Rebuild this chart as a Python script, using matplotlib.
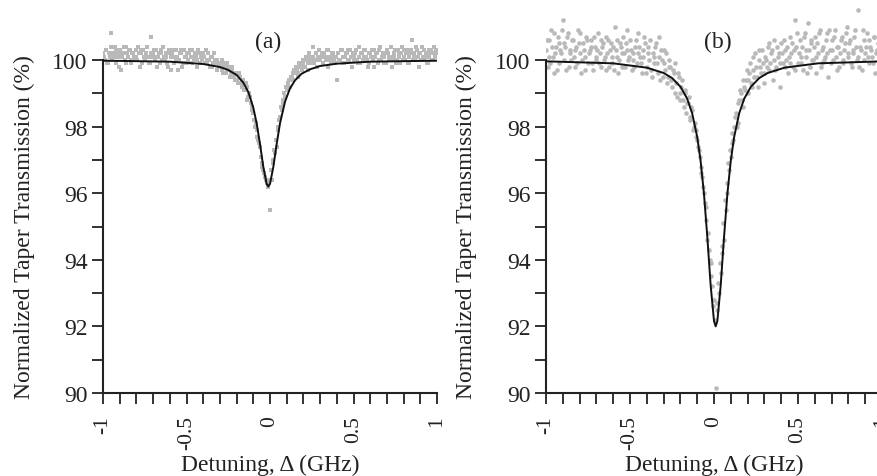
import numpy as np
import matplotlib
matplotlib.use("Agg")
import matplotlib.pyplot as plt
from matplotlib.ticker import MultipleLocator, FixedLocator, FixedFormatter

plt.rcParams['font.family'] = ['Liberation Serif', 'DejaVu Serif']

# ---------------- data ----------------
# panel (a): measured transmission, detuning sweep -1..1 GHz
detuning_a = np.linspace(-1.0, 1.0, 201)
trans_a = [
    100.2, 100.0, 100.3, 99.9, 100.1, 100.8, 100.2, 100.4, 99.9, 100.1,
    100.3, 99.7, 100.2, 100.0, 100.4, 100.1, 100.3, 99.9, 100.2, 100.0,
    100.1, 100.4, 99.8, 100.2, 100.3, 100.0, 100.2, 100.1, 99.9, 100.7,
    100.2, 100.0, 100.3, 100.1, 99.9, 100.2, 100.4, 100.0, 100.1, 99.8,
    100.2, 99.7, 100.3, 100.1, 100.0, 99.7, 100.2, 100.3, 99.9, 100.1,
    100.2, 100.0, 100.3, 99.9, 100.1, 100.2, 100.0, 100.3, 99.9, 100.1,
    100.2, 99.9, 100.0, 100.2, 99.8, 100.1, 99.9, 100.0, 99.7, 99.9,
    99.8, 100.0, 99.6, 99.9, 99.7, 99.8, 99.5, 99.7, 99.6, 99.4,
    99.6, 99.3, 99.5, 99.2, 99.4, 99.1, 99.2, 98.9, 98.9, 98.6,
    98.4, 98.0, 97.9, 97.6, 97.4, 96.9, 96.7, 96.5, 96.3, 96.2,
    95.5, 96.4, 96.9, 97.2, 97.4, 97.9, 98.3, 98.5, 98.8, 98.9,
    99.1, 99.3, 99.2, 99.5, 99.4, 99.6, 99.7, 99.5, 99.8, 99.7,
    99.9, 99.8, 100.0, 99.7, 100.1, 99.9, 100.4, 100.0, 99.8, 100.1,
    100.0, 100.2, 99.9, 100.1, 100.3, 99.8, 100.0, 100.2, 100.1, 99.9,
    99.4, 100.2, 100.0, 100.3, 99.9, 100.1, 100.2, 100.0, 100.3, 99.8,
    100.1, 100.2, 100.0, 100.4, 99.9, 100.2, 100.1, 100.3, 100.0, 99.9,
    100.2, 100.3, 99.8, 100.1, 100.2, 100.0, 100.4, 100.1, 99.9, 100.2,
    100.3, 100.0, 100.1, 99.8, 100.2, 100.3, 100.0, 100.2, 99.9, 100.4,
    100.1, 100.0, 100.3, 99.9, 100.2, 100.6, 100.1, 100.0, 100.3, 99.8,
    100.2, 100.4, 100.0, 100.1, 99.9, 100.3, 100.2, 100.0, 100.4, 100.1,
    100.2,
]
# second interleaved sweep (a)
detuning_a2 = np.linspace(-0.995, 0.995, 200)
trans_a2 = [
    100.1, 100.3, 99.9, 100.2, 100.4, 100.0, 100.1, 100.3, 100.2, 99.8,
    100.2, 100.1, 100.4, 99.9, 100.2, 100.3, 100.0, 100.2, 100.1, 100.3,
    100.0, 100.2, 100.3, 99.9, 100.1, 100.2, 100.4, 99.9, 100.2, 100.1,
    100.3, 100.1, 99.8, 100.2, 100.3, 100.0, 100.1, 100.2, 99.9, 100.3,
    100.1, 100.2, 99.9, 100.3, 100.1, 100.0, 100.2, 99.8, 100.3, 100.1,
    99.9, 100.2, 100.1, 100.3, 100.0, 100.1, 99.8, 100.2, 100.1, 100.0,
    100.1, 100.3, 99.9, 100.0, 100.1, 99.8, 100.2, 99.9, 100.0, 99.8,
    99.9, 99.7, 99.8, 99.6, 99.9, 99.7, 99.6, 99.8, 99.5, 99.6,
    99.4, 99.6, 99.3, 99.4, 99.1, 99.3, 98.8, 99.0, 98.7, 98.5,
    98.2, 98.1, 97.7, 97.5, 97.1, 96.8, 96.6, 96.4, 96.3, 96.4,
    96.7, 97.0, 97.3, 97.6, 98.0, 98.2, 98.6, 98.7, 99.0, 99.2,
    99.2, 99.4, 99.5, 99.6, 99.7, 99.8, 99.6, 99.9, 99.8, 100.0,
    99.8, 100.1, 99.9, 100.2, 100.0, 100.1, 99.9, 100.2, 100.0, 100.3,
    100.1, 99.9, 100.2, 100.0, 100.3, 100.1, 99.9, 100.2, 100.0, 100.1,
    100.2, 100.0, 100.3, 100.1, 99.9, 100.2, 100.3, 100.0, 100.1, 100.2,
    100.0, 100.3, 99.9, 100.1, 100.2, 100.0, 100.3, 100.1, 99.8, 100.2,
    100.1, 100.0, 100.3, 100.2, 99.9, 100.3, 100.0, 100.2, 100.1, 99.9,
    100.2, 100.1, 100.4, 100.0, 100.1, 99.9, 100.3, 100.1, 100.2, 100.0,
    100.3, 100.2, 99.9, 100.1, 100.3, 100.0, 100.2, 100.4, 100.1, 100.2,
    100.0, 100.1, 100.3, 100.2, 99.9, 100.1, 100.3, 100.0, 100.2, 100.3,
]
fit_x_a = [-1.0, -0.6, -0.4, -0.3, -0.25, -0.2, -0.16, -0.13, -0.1, -0.08,
           -0.06, -0.04, -0.02, -0.01, 0.0, 0.02, 0.04, 0.06, 0.09, 0.12,
           0.15, 0.19, 0.24, 0.3, 0.4, 0.6, 1.0]
fit_y_a = [99.98, 99.95, 99.88, 99.79, 99.70, 99.55, 99.32, 99.04, 98.57, 98.10,
           97.48, 96.79, 96.28, 96.20, 96.28, 96.79, 97.48, 98.10, 98.75, 99.15,
           99.39, 99.59, 99.72, 99.82, 99.89, 99.95, 99.98]

# panel (b)
detuning_b = np.linspace(-1.0, 1.0, 201)
trans_b = [
    100.3, 99.8, 100.6, 100.9, 100.1, 99.6, 100.4, 100.7, 99.9, 100.2,
    101.2, 100.5, 99.7, 100.8, 100.3, 100.0, 100.6, 99.8, 100.4, 100.9,
    100.2, 99.6, 100.5, 100.1, 100.7, 99.9, 100.3, 100.6, 99.7, 100.4,
    100.0, 100.8, 100.2, 99.8, 100.5, 100.1, 99.7, 100.6, 100.3, 99.9,
    100.4, 101.0, 100.1, 99.6, 100.5, 100.2, 100.7, 99.8, 100.3, 100.0,
    100.6, 99.7, 100.2, 100.4, 99.9, 100.8, 100.1, 99.6, 100.3, 100.5,
    99.8, 100.2, 100.6, 99.5, 100.1, 100.4, 99.9, 100.7, 99.4, 100.0,
    100.3, 99.7, 99.3, 100.0, 99.8, 99.2, 99.6, 99.9, 98.9, 99.5,
    99.0, 99.4, 98.6, 99.1, 98.7, 98.9, 98.3, 98.5, 98.0, 97.9,
    97.6, 97.3, 96.8, 96.5, 96.0, 95.6, 94.6, 94.3, 93.9, 93.2,
    92.8, 90.15, 92.5, 93.0, 93.6, 94.2, 94.6, 95.5, 96.0, 96.7,
    97.1, 97.5, 98.0, 98.4, 98.1, 98.8, 99.0, 98.6, 99.2, 99.4,
    99.0, 99.6, 99.3, 100.1, 99.5, 99.8, 99.2, 100.3, 99.6, 99.9,
    99.3, 100.0, 100.4, 99.7, 100.2, 99.4, 100.6, 99.8, 100.1, 99.2,
    100.5, 99.9, 100.3, 100.0, 99.6, 100.7, 100.2, 99.8, 101.2, 100.4,
    99.9, 100.6, 100.1, 99.7, 100.8, 100.3, 101.1, 99.8, 100.5, 100.0,
    100.7, 99.6, 100.2, 100.9, 99.9, 100.4, 100.1, 100.8, 99.5, 100.3,
    100.6, 100.0, 100.9, 99.7, 100.4, 100.2, 100.7, 99.9, 100.5, 101.0,
    100.1, 100.6, 99.8, 100.3, 100.9, 100.0, 101.5, 100.4, 99.7, 100.6,
    100.2, 100.8, 99.9, 100.4, 100.1, 100.7, 99.6, 100.3, 100.5, 100.0,
    100.4,
]
detuning_b2 = np.linspace(-0.995, 0.995, 200)
trans_b2 = [
    100.6, 100.1, 99.9, 100.4, 100.8, 100.2, 99.7, 100.5, 100.3, 100.9,
    100.0, 100.4, 100.7, 99.8, 100.2, 100.6, 100.1, 100.3, 99.9, 100.5,
    100.8, 100.0, 100.3, 99.7, 100.6, 100.2, 100.4, 99.9, 100.7, 100.1,
    100.3, 99.9, 100.6, 100.4, 100.0, 100.7, 100.2, 99.8, 100.5, 100.1,
    99.7, 100.3, 100.6, 100.0, 100.4, 99.8, 100.2, 100.5, 100.9, 100.1,
    100.3, 100.0, 99.8, 100.6, 100.2, 100.4, 99.9, 100.1, 100.7, 99.6,
    100.4, 100.0, 99.7, 100.2, 99.9, 100.5, 99.6, 100.1, 100.3, 99.5,
    99.9, 100.2, 99.5, 99.8, 99.4, 99.7, 99.0, 99.3, 99.6, 98.8,
    99.2, 98.8, 99.0, 98.4, 98.7, 98.2, 98.6, 97.9, 98.1, 97.7,
    97.4, 97.1, 96.6, 96.2, 95.7, 95.2, 94.8, 94.0, 93.5, 92.6,
    92.2, 92.7, 93.3, 93.9, 94.4, 95.1, 95.8, 96.3, 96.9, 97.3,
    97.8, 97.6, 98.3, 98.0, 98.7, 99.1, 98.8, 99.4, 99.1, 99.7,
    99.4, 99.9, 99.2, 99.7, 100.2, 99.5, 100.0, 99.8, 100.3, 99.6,
    100.1, 99.8, 100.5, 99.9, 100.3, 100.0, 99.7, 100.4, 100.2, 99.9,
    100.2, 100.6, 99.8, 100.4, 100.1, 99.9, 100.5, 100.3, 99.7, 100.8,
    100.2, 99.9, 100.4, 100.7, 100.1, 99.6, 100.3, 100.6, 100.0, 100.4,
    100.1, 100.5, 100.8, 99.8, 100.3, 100.0, 100.6, 100.2, 100.9, 99.9,
    100.3, 100.7, 100.1, 100.4, 99.8, 100.6, 100.0, 100.3, 100.8, 100.2,
    100.5, 99.9, 100.2, 100.7, 100.4, 100.1, 99.8, 100.3, 100.9, 100.0,
    100.4, 100.1, 100.6, 100.3, 99.9, 100.7, 100.2, 100.5, 99.8, 100.3,
]
fit_x_b = [-1.0, -0.6, -0.4, -0.3, -0.25, -0.2, -0.16, -0.13, -0.1, -0.08,
           -0.06, -0.04, -0.02, 0.0, 0.01, 0.02, 0.04, 0.06, 0.08, 0.10,
           0.12, 0.15, 0.18, 0.22, 0.27, 0.32, 0.42, 0.62, 1.0]
fit_y_b = [99.96, 99.90, 99.77, 99.61, 99.46, 99.20, 98.84, 98.40, 97.69, 96.98,
           96.00, 94.70, 93.24, 92.16, 92.00, 92.16, 93.24, 94.70, 96.00, 96.98,
           97.69, 98.40, 98.84, 99.20, 99.46, 99.61, 99.77, 99.90, 99.96]

xtick_vals = [-1, -0.5, 0, 0.5, 1]
xtick_labels = ['-1', '-0.5', '0', '0.5', '1']
ytick_vals = [90, 92, 94, 96, 98, 100]
ytick_labels = ['90', '92', '94', '96', '98', '100']
panel_labels = ['(a)', '(b)']

# ---------------- figure ----------------
W, H = 877, 477
fig = plt.figure(figsize=(W / 100, H / 100), dpi=100)

y_top = 101.6
bottom_px = 394
top_px = 61 - (y_top - 100) * 33.3
def axes_rect(left_px, right_px):
    return [left_px / W, (H - bottom_px) / H, (right_px - left_px) / W,
            (bottom_px - top_px) / H]

ax_a = fig.add_axes(axes_rect(103, 437))
ax_b = fig.add_axes(axes_rect(546, 882))

gray = '#b9b9b9'
ax_a.scatter(detuning_a, trans_a, s=7, marker='s', color=gray, linewidths=0, zorder=2)
ax_a.scatter(detuning_a2, trans_a2, s=7, marker='s', color=gray, linewidths=0, zorder=2)
ax_a.plot(fit_x_a, fit_y_a, color='#111111', lw=1.4, zorder=3)
ax_b.scatter(detuning_b, trans_b, s=11, marker='o', color=gray, linewidths=0, zorder=2)
ax_b.scatter(detuning_b2, trans_b2, s=11, marker='o', color=gray, linewidths=0, zorder=2)
ax_b.plot(fit_x_b, fit_y_b, color='#111111', lw=1.4, zorder=3)

title_pos = [(-0.01, 100.57), (0.02, 100.57)]
ax_h_px = bottom_px - top_px
for ax, lab, tp in zip([ax_a, ax_b], panel_labels, title_pos):
    ax.set_xlim(-1, 1)
    ax.set_ylim(90, y_top)
    for s in ['top', 'right']:
        ax.spines[s].set_visible(False)
    for s in ['left', 'bottom']:
        ax.spines[s].set_linewidth(1.5)
        ax.spines[s].set_color('#222222')
    ax.spines['left'].set_bounds(90, 100)
    ax.xaxis.set_major_locator(FixedLocator(xtick_vals))
    ax.xaxis.set_major_formatter(FixedFormatter(xtick_labels))
    ax.xaxis.set_minor_locator(MultipleLocator(0.1))
    ax.yaxis.set_major_locator(FixedLocator(ytick_vals))
    ax.yaxis.set_major_formatter(FixedFormatter(ytick_labels))
    ax.yaxis.set_minor_locator(FixedLocator([91, 93, 95, 97, 99]))
    ax.tick_params(axis='both', which='both', direction='out', length=8, width=1.3,
                   color='#222222', labelsize=17, labelcolor='#222222')
    ax.tick_params(axis='x', which='major', labelrotation=90, pad=8, labelsize=15.5)
    ax.tick_params(axis='y', which='major', pad=3)
    ax.set_xlabel('Detuning, Δ (GHz)', fontsize=17, color='#222222')
    ax.xaxis.set_label_coords(0.5, -(455 - bottom_px) / ax_h_px)
    ax.set_ylabel('Normalized Taper Transmission (%)', fontsize=17, color='#222222')
    ax.yaxis.set_label_coords(-0.205, (95 - 90) / (y_top - 90))
    ax.text(tp[0], tp[1], lab, ha='center', va='center', fontsize=17, color='#222222')

fig.savefig('out.png', dpi=100)
